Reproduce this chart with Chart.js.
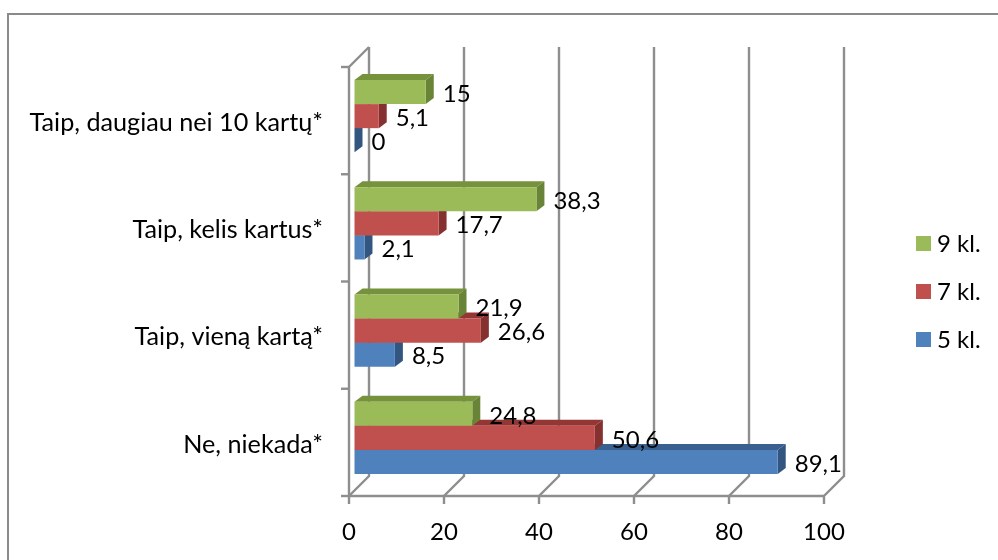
<!DOCTYPE html>
<html>
<head>
  <meta charset="utf-8">
  <title>Bar chart</title>
  <script src="https://cdn.jsdelivr.net/npm/chart.js"></script>
  <style>
    body { margin: 0; background: #fff; }
    canvas { display: block; }
  </style>
</head>
<body>
  <canvas id="chart" width="998" height="560"></canvas>

  <script>
    const categories = ['Taip, daugiau nei 10 kartų*', 'Taip, kelis kartus*', 'Taip, vieną kartą*', 'Ne, niekada*'];
    const seriesNames = ['9 kl.', '7 kl.', '5 kl.'];
    const values9kl = [15, 38.3, 21.9, 24.8];
    const values7kl = [5.1, 17.7, 26.6, 50.6];
    const values5kl = [0, 2.1, 8.5, 89.1];
    const xTicks = [0, 20, 40, 60, 80, 100];

    const fontName = 'Lato, "Noto Sans", sans-serif';
    const fontSize = 24;
    const lineColor = '#8e8e8e';

    // colours for front, top and side of each 3D bar
    const colors = [
      { front: '#9bbb59', top: '#76923c', side: '#6a8437' },
      { front: '#c0504d', top: '#943634', side: '#843130' },
      { front: '#4f81bd', top: '#39608f', side: '#335681' }
    ];

    // the "depth" of the 3D look
    const wallDepth = 20;
    const barShiftX = 5.5;
    const barShiftY = 4.5;
    const barDepthX = 8;
    const barDepthY = 6;

    function line(ctx, points) {
      ctx.beginPath();
      points.forEach((p, i) => i ? ctx.lineTo(p[0], p[1]) : ctx.moveTo(p[0], p[1]));
      ctx.stroke();
    }

    function poly(ctx, points, color) {
      ctx.beginPath();
      points.forEach((p, i) => i ? ctx.lineTo(p[0], p[1]) : ctx.moveTo(p[0], p[1]));
      ctx.closePath();
      ctx.fillStyle = color;
      ctx.fill();
    }

    const frame3d = {
      id: 'frame3d',
      beforeDatasetsDraw(chart) {
        const ctx = chart.ctx;
        const area = chart.chartArea;
        const xScale = chart.scales.x;
        ctx.save();

        // outer border of the picture
        ctx.strokeStyle = '#8a8a8a';
        ctx.lineWidth = 2;
        line(ctx, [[8, 560], [8, 14], [998, 14]]);

        ctx.strokeStyle = lineColor;
        ctx.lineWidth = 2.4;
        xTicks.forEach(v => {
          const x = xScale.getPixelForValue(v);
          line(ctx, [[x, area.bottom + 8], [x, area.bottom], [x + wallDepth, area.bottom - wallDepth], [x + wallDepth, area.top - wallDepth]]);
        });
        line(ctx, [[area.left, area.bottom], [area.right, area.bottom]]);
        line(ctx, [[area.left, area.bottom], [area.left, area.top], [area.left + wallDepth, area.top - wallDepth]]);

        // category ticks on the left wall
        const step = (area.bottom - area.top) / categories.length;
        for (let i = 0; i <= categories.length; i++) {
          const y = area.top + step * i;
          line(ctx, [[area.left - 8, y], [area.left, y]]);
        }
        ctx.restore();
      },
      beforeDatasetDraw(chart, args) {
        const ctx = chart.ctx;
        const c = colors[args.index];
        ctx.save();
        ctx.translate(barShiftX, -barShiftY);
        args.meta.data.forEach(bar => {
          const top = bar.y - bar.height / 2;
          const bottom = bar.y + bar.height / 2;
          poly(ctx, [[bar.base, top], [bar.x, top], [bar.x + barDepthX, top - barDepthY], [bar.base + barDepthX, top - barDepthY]], c.top);
          poly(ctx, [[bar.x, top], [bar.x + barDepthX, top - barDepthY], [bar.x + barDepthX, bottom - barDepthY], [bar.x, bottom]], c.side);
        });
      },
      afterDatasetDraw(chart) {
        chart.ctx.restore();
      },
      afterDatasetsDraw(chart) {
        const ctx = chart.ctx;
        ctx.save();
        ctx.font = fontSize + 'px ' + fontName;
        ctx.fillStyle = '#000';
        ctx.textBaseline = 'middle';

        // value labels
        ctx.textAlign = 'left';
        chart.data.datasets.forEach((ds, i) => {
          chart.getDatasetMeta(i).data.forEach((bar, j) => {
            const text = String(ds.data[j]).replace('.', ',');
            ctx.fillText(text, bar.x + barShiftX + 17, bar.y - barShiftY + 2);
          });
        });

        // legend
        seriesNames.forEach((name, i) => {
          const y = 236 + i * 48;
          ctx.fillStyle = colors[i].front;
          ctx.fillRect(916, y, 15, 15);
          ctx.fillStyle = '#000';
          ctx.fillText(name, 937, y + 8);
        });
        ctx.restore();
      }
    };

    new Chart(document.getElementById('chart'), {
      type: 'bar',
      data: {
        labels: categories,
        datasets: [
          { label: seriesNames[0], data: values9kl, backgroundColor: colors[0].front },
          { label: seriesNames[1], data: values7kl, backgroundColor: colors[1].front },
          { label: seriesNames[2], data: values5kl, backgroundColor: colors[2].front }
        ]
      },
      options: {
        indexAxis: 'y',
        responsive: false,
        animation: false,
        clip: false,
        categoryPercentage: 0.673,
        barPercentage: 1,
        layout: { padding: { top: 67, right: 174, left: 0, bottom: 0 } },
        plugins: {
          legend: { display: false },
          tooltip: { enabled: false }
        },
        scales: {
          x: {
            min: 0,
            max: 100,
            afterBuildTicks(scale) { scale.ticks = xTicks.map(v => ({ value: v })); },
            afterFit(scale) { scale.height = 64; },
            grid: { display: false, drawTicks: false },
            border: { display: false },
            ticks: { color: '#000', padding: 22, maxRotation: 0, font: { family: fontName, size: fontSize } }
          },
          y: {
            afterFit(scale) { scale.width = 349; },
            grid: { display: false, drawTicks: false },
            border: { display: false },
            ticks: { color: '#000', padding: 26, labelOffset: 2, font: { family: fontName, size: 25.2 } }
          }
        }
      },
      plugins: [frame3d]
    });
  </script>
</body>
</html>
